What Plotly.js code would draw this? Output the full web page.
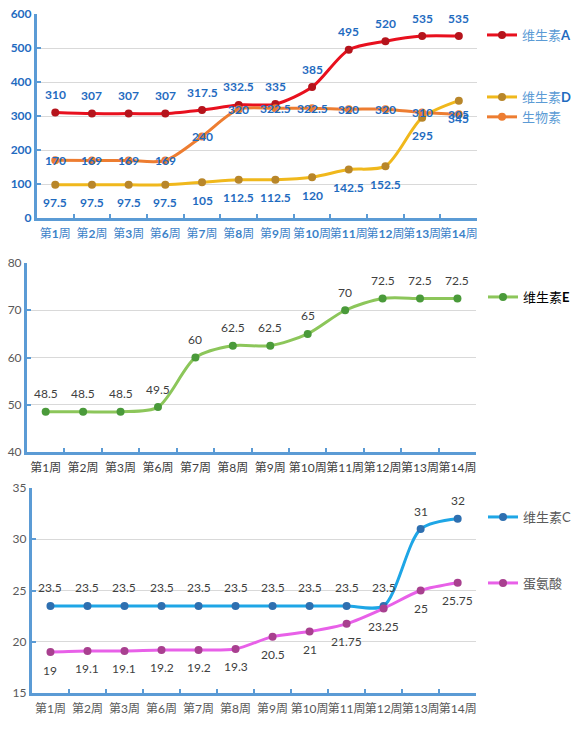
<!DOCTYPE html>
<html><head><meta charset="utf-8">
<script src="https://cdn.plot.ly/plotly-3.0.1.min.js"></script>
<style>html,body{margin:0;padding:0;background:#fff}</style>
</head><body><div id="chart" style="width:577px;height:729px"></div>
<script>
const weeks = ['1','2','3','6','7','8','9','10','11','12','13','14'];
const categories = weeks.map(w => '第' + w + '周');
const vitA = [310, 307, 307, 307, 317.5, 332.5, 335, 385, 495, 520, 535, 535];
const biotin = [170, 169, 169, 169, 240, 320, 322.5, 322.5, 320, 320, 310, 305];
const vitD = [97.5, 97.5, 97.5, 97.5, 105, 112.5, 112.5, 120, 142.5, 152.5, 295, 345];
const vitE = [48.5, 48.5, 48.5, 49.5, 60, 62.5, 62.5, 65, 70, 72.5, 72.5, 72.5];
const vitC = [23.5, 23.5, 23.5, 23.5, 23.5, 23.5, 23.5, 23.5, 23.5, 23.5, 31, 32];
const methionine = [19, 19.1, 19.1, 19.2, 19.2, 19.3, 20.5, 21, 21.75, 23.25, 25, 25.75];
const tick1 = weeks.map(w => '第<b>' + w + '</b>周');

const FONT = 'Lato, "Noto Sans CJK SC", sans-serif';
const AXBLUE = '#5b9bd5';

function tr(name, y, xa, ya, lineColor, markerColor, legend) {
  return {
    type: 'scatter', mode: 'lines+markers', name: name, x: categories, y: y,
    xaxis: xa, yaxis: ya, legend: legend,
    line: {color: lineColor, width: 3, shape: 'spline', smoothing: 0.8},
    marker: {color: markerColor, size: 8, line: {width: 0}},
    cliponaxis: false
  };
}

const data = [
  tr('<span style="color:#5b9bd5">维生素</span><b>A</b>', vitA, 'x', 'y', '#e8101e', '#b5141c', 'legend'),
  tr('<span style="color:#5b9bd5">维生素</span><b>D</b>', vitD, 'x', 'y', '#f0b81c', '#b8862a', 'legend2'),
  tr('<span style="color:#5b9bd5">生物素</span>', biotin, 'x', 'y', '#ed7d31', '#ed7d31', 'legend2'),
  tr('维生素<b>E</b>', vitE, 'x2', 'y2', '#8cc65a', '#4a9a3a', 'legend3'),
  tr('维生素C', vitC, 'x3', 'y3', '#1ea6e6', '#2e6fb0', 'legend4'),
  tr('蛋氨酸', methionine, 'x3', 'y3', '#e860e8', '#a8408f', 'legend5')
];

const annotations = [];
function labels(vals, xa, ya, shift, color, bold) {
  vals.forEach((v, i) => {
    annotations.push({
      x: categories[i], y: v, xref: xa, yref: ya, text: bold ? '<b>' + v + '</b>' : String(v),
      showarrow: false, yshift: shift, font: {family: FONT, size: 12, color: color}
    });
  });
}
labels(vitA, 'x', 'y', 18, '#1f6bbf', true);
labels(biotin, 'x', 'y', 0, '#1f6bbf', true);
labels(vitD, 'x', 'y', -18, '#1f6bbf', true);
labels(vitE, 'x2', 'y2', 18, '#404040', false);
labels(vitC, 'x3', 'y3', 18, '#404040', false);
labels(methionine, 'x3', 'y3', -18, '#404040', false);

function xax(domain, anchor, ticktext, color) {
  return {
    domain: domain, anchor: anchor, type: 'category',
    range: [-0.5, categories.length - 0.5], autorange: false,
    tickvals: categories, ticktext: ticktext, tickangle: 0, ticklabelstandoff: 3,
    showline: true, linecolor: AXBLUE, linewidth: 3, showgrid: false,
    ticks: 'inside', tickson: 'boundaries', ticklen: 4, tickwidth: 2, tickcolor: AXBLUE,
    tickfont: {family: FONT, size: 12, color: color}, automargin: false, fixedrange: true
  };
}
function yax(domain, anchor, range, dtick, color, bold) {
  return {
    domain: domain, anchor: anchor, range: range, dtick: dtick,
    showline: true, linecolor: AXBLUE, linewidth: 3,
    showgrid: true, gridcolor: '#d9d9d9', gridwidth: 1, zeroline: false,
    ticks: 'inside', ticklen: 4, tickwidth: 2, tickcolor: AXBLUE,
    tickfont: {family: FONT, size: 12, color: color, weight: bold ? 'bold' : 'normal'},
    automargin: false, fixedrange: true
  };
}

function leg(x, y, color) {
  return {x: x, y: y, xanchor: 'left', yanchor: 'middle', bgcolor: 'rgba(0,0,0,0)',
    font: {family: FONT, size: 13, color: color}, itemwidth: 30, tracegroupgap: 0};
}

const layout = {
  width: 577, height: 729,
  margin: {l: 0, r: 0, t: 0, b: 0},
  paper_bgcolor: '#fff', plot_bgcolor: '#fff',
  font: {family: FONT},
  xaxis: xax([37/577, 478/577], 'y', tick1, '#3c82c8'),
  yaxis: yax([1-218/729, 1-14/729], 'x', [0, 600], 100, '#1f6bbf', true),
  xaxis2: xax([27/577, 477/577], 'y2', categories, '#404040'),
  yaxis2: yax([1-452/729, 1-263/729], 'x2', [40, 80], 10, '#595959', false),
  xaxis3: xax([32/577, 477/577], 'y3', categories, '#595959'),
  yaxis3: yax([1-693/729, 1-488/729], 'x3', [15, 35], 5, '#595959', false),
  showlegend: true,
  legend: leg(483/577, 1-35/729, '#1f6bbf'),
  legend2: leg(483/577, 1-107/729, '#1f6bbf'),
  legend3: leg(483/577, 1-297/729, '#000'),
  legend4: leg(483/577, 1-517/729, '#595959'),
  legend5: leg(483/577, 1-583/729, '#595959'),
  annotations: annotations
};

Plotly.newPlot('chart', data, layout, {displayModeBar: false, staticPlot: true});
</script></body></html>
